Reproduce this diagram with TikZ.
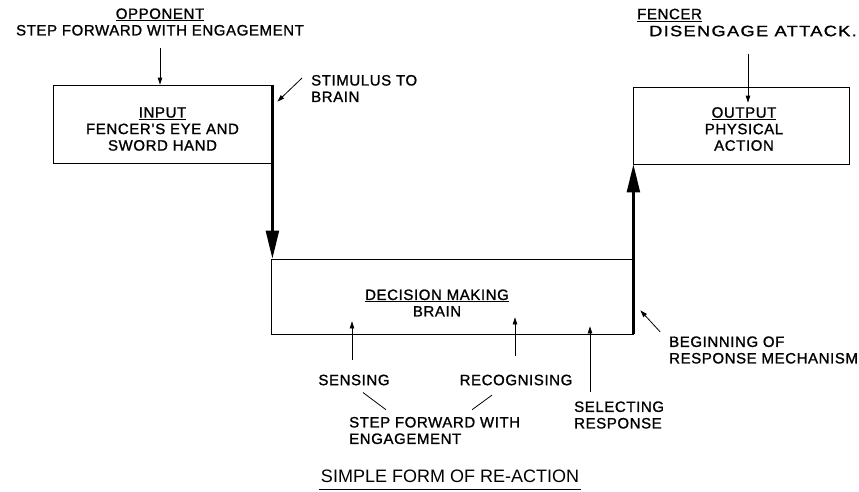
\documentclass[tikz,border=0pt]{standalone}
\usepackage{fontspec}
\setmainfont{Liberation Sans}[LetterSpace=4,FakeBold=1.2]
\newfontfamily\titlefont{Liberation Sans}
\usetikzlibrary{arrows.meta}
\begin{document}
\begin{tikzpicture}[x=1pt,y=-1pt,
    box/.style={draw,line width=0.8pt,rectangle,inner sep=0pt},
    lbl/.style={inner sep=1pt,font=\fontsize{15}{16.5}\selectfont},
    small arrow/.style={-{Triangle[length=7pt,width=4.5pt]},line width=0.8pt},
    flow/.style={-{Triangle[length=28pt,width=13pt]},line width=2.4pt}]
    \useasboundingbox (0,0) rectangle (859,491);
    % boxes
    \node[box,minimum width=219pt,minimum height=78pt] (inp) at (162.5,124) {};
    \node[box,minimum width=216pt,minimum height=77pt] (out) at (741,125.5) {};
    \node[box,minimum width=362pt,minimum height=75pt] (dec) at (452,296.5) {};
    \node[lbl,align=center] (inptxt) at (162.5,129) {\underline{INPUT}\\FENCER'S EYE AND\\SWORD HAND};
    \node[lbl,align=center] (outtxt) at (744,129) {\underline{OUTPUT}\\PHYSICAL\\ACTION};
    \node[lbl,align=center] (dectxt) at (437,303) {\underline{DECISION MAKING}\\BRAIN};
    % labels
    \node[lbl,align=center] (opp) at (160,22) {\underline{OPPONENT}\\STEP FORWARD WITH ENGAGEMENT};
    \node[lbl,align=left,anchor=west] (stim) at (310,88.5) {STIMULUS TO\\BRAIN};
    \node[lbl,anchor=west] (fen) at (636,15) {\underline{FENCER}};
    \node[lbl,anchor=west] (dis) at (648,31) {\addfontfeature{FakeStretch=1.22,LetterSpace=8.5}DISENGAGE ATTACK.};
    \node[lbl,align=left,anchor=west] (beg) at (668,350) {BEGINNING OF\\RESPONSE MECHANISM};
    \node[lbl] (sense) at (354,380) {SENSING};
    \node[lbl] (recog) at (516,380) {RECOGNISING};
    \node[lbl,align=left,anchor=west] (sel) at (573,415) {SELECTING\\RESPONSE};
    \node[lbl,align=left,anchor=west] (step) at (348,430.5) {STEP FORWARD WITH\\ENGAGEMENT};
    \node[inner sep=0pt,font=\titlefont\fontsize{18}{20}\selectfont] (title) at (450,476) {SIMPLE FORM OF RE-ACTION};
    \draw[line width=0.8pt] ([shift={(-2,7)}]title.south west) -- ([shift={(2,7)}]title.south east);
    % main flow
    \draw[flow] (inp.north east) -- (inp.north east |- dec.north);
    \draw[flow] (dec.south east) -- (dec.south east |- out.south);
    % small arrows
    \draw[small arrow] ([yshift=-11pt]opp.south) -- (opp.south |- inp.north);
    \draw[small arrow] ([shift={(-5,16)}]dis.south) -- ([shift={(-5,16)}]dis.south |- out.north);
    \draw[small arrow] ([shift={(-8,-10.5)}]stim.west) -- ([shift={(5,17)}]inp.north east);
    \draw[small arrow] ([shift={(-8,-3.5)}]beg.north west) -- ([shift={(7,-24)}]dec.south east);
    \draw[small arrow] ([shift={(-2,-13)}]sense.north) -- ([shift={(-2,-13)}]sense.north |- dec.south);
    \draw[small arrow] ([shift={(-1,-17)}]recog.north) -- ([shift={(-1,-17)}]recog.north |- dec.south);
    \draw[small arrow] ([shift={(17,-8)}]sel.north west) -- ([shift={(17,-8)}]sel.north west |- dec.south);
    % pointer lines
    \draw[line width=0.8pt] ([shift={(9,6)}]sense.south) -- ([shift={(38,-6)}]step.north west);
    \draw[line width=0.8pt] ([shift={(-24,8.6)}]recog.south) -- ([shift={(124,-6)}]step.north west);
\end{tikzpicture}
\end{document}
